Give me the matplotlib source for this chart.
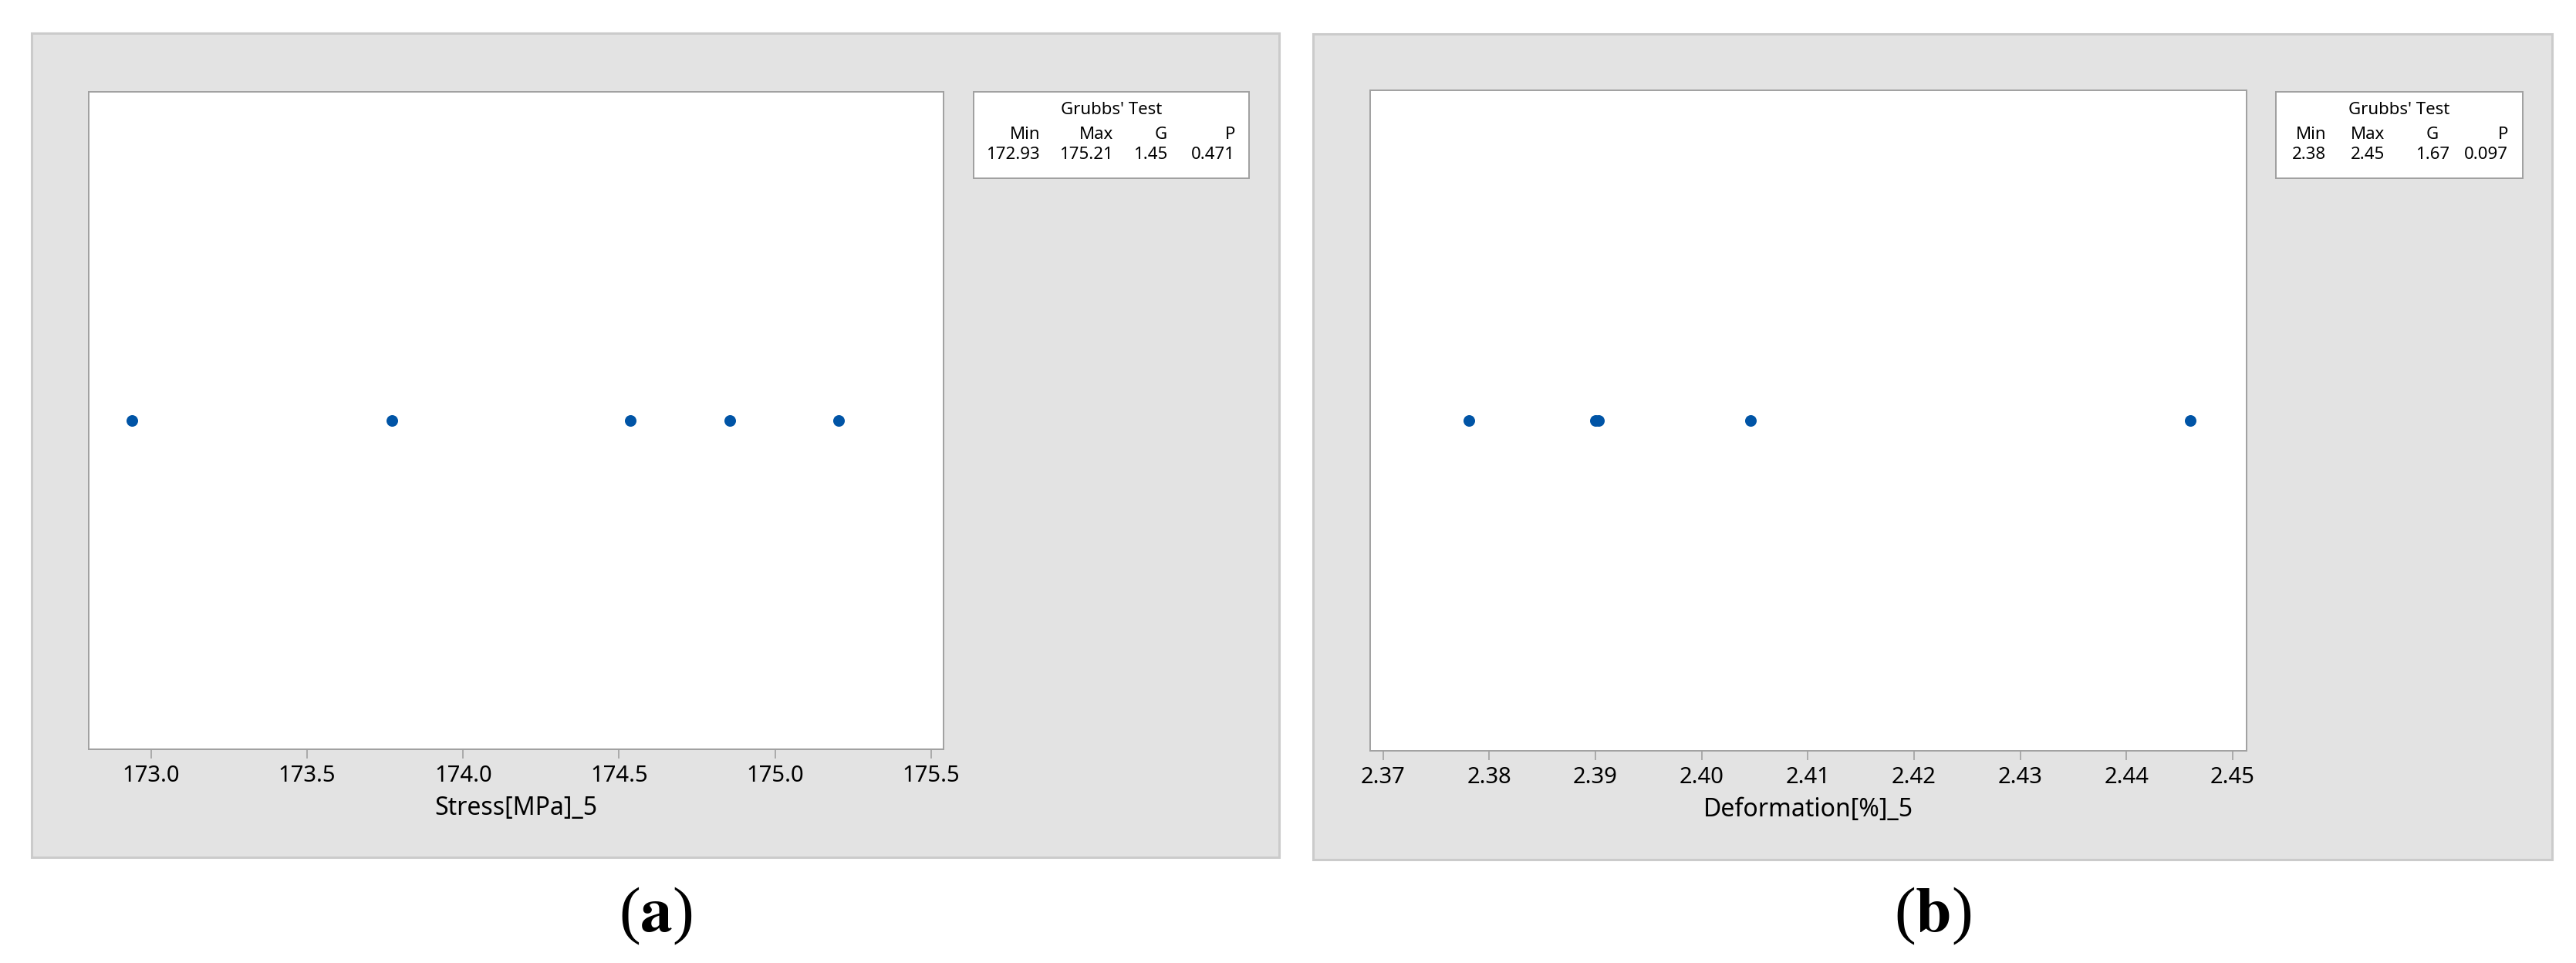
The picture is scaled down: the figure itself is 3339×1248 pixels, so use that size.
"""
Grubbs' test outlier plots: (a) stress, (b) deformation
"""
import matplotlib
matplotlib.use('Agg')
import matplotlib.pyplot as plt
import matplotlib.patches as mpatches
import numpy as np

W, H = 3339, 1248
DPI = 200

PANEL_BG = '#E3E3E3'
PANEL_EDGE = '#CBCBCB'
AXIS_GRAY = '#A0A0A0'
DOT = '#0054A6'
FONT = 'Noto Sans'

plt.rcParams['mathtext.fontset'] = 'stix'

# ── data ─────────────────────────────────────────────────────────────────────
stress = [172.938, 173.772, 174.535, 174.854, 175.203]
deformation = [2.3781, 2.3900, 2.3903, 2.4046, 2.4460]

stress_ticks = [173.0, 173.5, 174.0, 174.5, 175.0, 175.5]
deform_ticks = [2.37, 2.38, 2.39, 2.40, 2.41, 2.42, 2.43, 2.44, 2.45]

table_header = ['Min', 'Max', 'G', 'P']
stress_table = ['172.93', '175.21', '1.45', '0.471']
deform_table = ['2.38', '2.45', '1.67', '0.097']


def fx(x):
    return x / W


def fy(y):
    return 1 - y / H


fig = plt.figure(figsize=(W / DPI, H / DPI), dpi=DPI)
fig.patch.set_facecolor('white')


def px_rect(x0, y0, x1, y1, **kw):
    r = mpatches.Rectangle((fx(x0), fy(y1)), fx(x1) - fx(x0), fy(y0) - fy(y1),
                           transform=fig.transFigure, **kw)
    fig.add_artist(r)


def panel(gray, axbox, xs, ticks, fmt, xlim, xlabel, tbl, cols, tag):
    gx0, gy0, gx1, gy1 = gray
    px_rect(gx0, gy0, gx1, gy1, facecolor=PANEL_BG, edgecolor=PANEL_EDGE,
            linewidth=1.1, zorder=0)

    ax0, ay0, ax1, ay1 = axbox
    ax = fig.add_axes([fx(ax0), fy(ay1), fx(ax1) - fx(ax0), fy(ay0) - fy(ay1)])
    ax.set_facecolor('white')
    ax.plot(xs, np.zeros(len(xs)), 'o', color=DOT, markersize=5.4,
            markeredgewidth=0)
    ax.set_xlim(*xlim)
    ax.set_ylim(-1, 1)
    ax.set_yticks([])
    ax.set_xticks(ticks)
    ax.set_xticklabels([fmt.format(t) for t in ticks], fontsize=10.5,
                       family=FONT)
    ax.tick_params(axis='x', direction='out', length=4.3, width=0.6,
                   color=AXIS_GRAY, pad=3)
    for s in ax.spines.values():
        s.set_color(AXIS_GRAY)
        s.set_linewidth(0.7)
    ax.set_xlabel(xlabel, fontsize=11.5, family=FONT, labelpad=4)

    # Grubbs' test box
    tx0, ty0, tx1, ty1 = tbl
    px_rect(tx0, ty0, tx1, ty1, facecolor='white', edgecolor=AXIS_GRAY,
            linewidth=0.7, zorder=2)
    fig.text(fx((tx0 + tx1) / 2), fy(143), "Grubbs' Test", ha='center',
             va='center', fontsize=8, family=FONT, zorder=3)
    for (cx, ha), head, val in zip(cols, table_header, tag[1]):
        fig.text(fx(cx), fy(175), head, ha=ha, va='center', fontsize=8,
                 family=FONT, zorder=3)
        fig.text(fx(cx), fy(201), val, ha=ha, va='center', fontsize=8,
                 family=FONT, zorder=3)

    fig.text(fx((gx0 + gx1) / 2), fy(1187), '(' + r'$\mathbf{' + tag[0] + '}$' + ')',
             ha='center', va='center', fontsize=30, family='Liberation Serif')


panel((41, 43, 1658, 1111), (115, 119, 1223, 971), stress, stress_ticks,
      '{:.1f}', (172.80, 175.54), 'Stress[MPa]_5', (1262, 119, 1619, 231),
      [(1348, 'right'), (1443, 'right'), (1513, 'right'), (1601, 'right')],
      ('a', stress_table))

panel((1702, 44, 3308, 1114), (1776, 117, 2912, 973), deformation,
      deform_ticks, '{:.2f}', (2.3688, 2.4513), 'Deformation[%]_5',
      (2950, 119, 3270, 231),
      [(3015, 'right'), (3091, 'right'), (3153, 'center'), (3251, 'right')],
      ('b', deform_table))

fig.savefig('out.png', dpi=DPI, facecolor='white')
plt.close(fig)
